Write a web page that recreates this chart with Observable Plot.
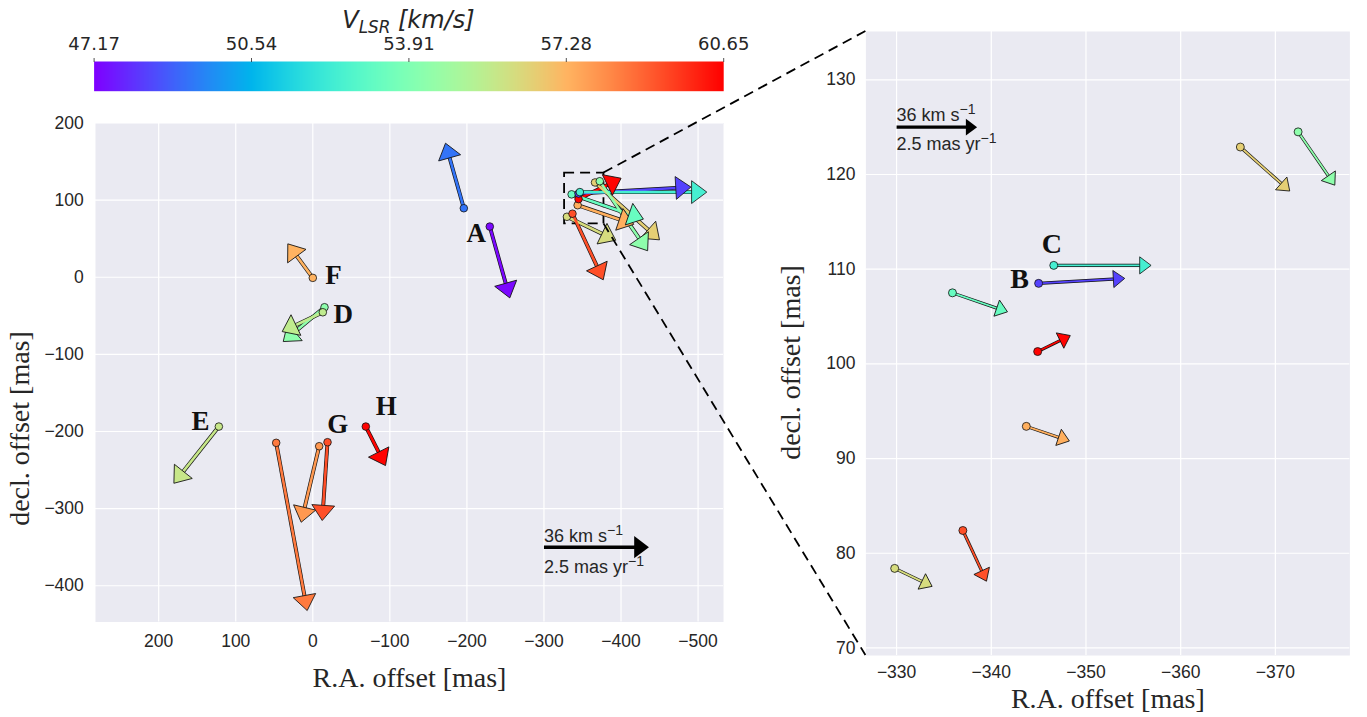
<!DOCTYPE html>
<html>
<head>
<meta charset="utf-8">
<script src="https://cdn.jsdelivr.net/npm/d3@7"></script>
<script src="https://cdn.jsdelivr.net/npm/@observablehq/plot@0.6"></script>
<style>
  body { margin: 0; background: #ffffff; }
  #fig { position: relative; width: 1367px; height: 717px; overflow: hidden; background: #fff; }
  .panel { position: absolute; }
  #cbtitle { position: absolute; left: 93.6px; width: 629.6px; top: 8px; text-align: center;
             font-family: "DejaVu Sans", sans-serif; font-style: italic; font-size: 24px; line-height: 24px; color: #262626; }
  #cbtitle sub { font-size: 70%; line-height: 0; vertical-align: -0.3em; }
  #overlay { position: absolute; left: 0; top: 0; pointer-events: none; }
</style>
</head>
<body>
<div id="fig">
  <div id="cb" class="panel" style="left:0;top:0;width:760px;height:100px"></div>
  <div id="cbtitle"><i>V<sub>LSR</sub> [km/s]</i></div>
  <div id="left" class="panel" style="left:0;top:110px;width:760px;height:607px"></div>
  <div id="right" class="panel" style="left:760px;top:0;width:607px;height:717px"></div>
  <svg id="overlay" width="1367" height="717"></svg>
</div>
<script>
// ---------------- data ----------------
const vlsrRange = [47.17, 60.65];
const cbarTicks = [47.17, 50.54, 53.91, 57.28, 60.65];
const cbarTickLabels = ["47.17", "50.54", "53.91", "57.28", "60.65"];

// maser spots: R.A. / decl. offsets (mas), proper motions (mas/yr, east & north positive), V_LSR (km/s)
const raOff  = [-196.0, -229.7,  0.0, -15.2, -13.0, 121.9,  47.5,  -8.3, -19.1, -68.8,
                -329.8, -337.0, -343.7, -344.9, -335.9, -345.0, -346.6, -366.3, -372.4];
const decOff = [  89.5,   65.7, -0.8, -38.9, -45.4, -193.6, -214.7, -219.1, -213.9, -193.6,
                  78.4,   82.4,  93.4, 101.3, 107.5, 108.5, 110.4, 122.9, 124.5];
const pmRA   = [ 0.436, -0.476, 0.595, 0.983, 0.967, 1.071, -0.738, 0.429, 0.126, -0.469,
                -1.162, -0.733, -1.337, -1.012, -1.709, -2.674, -3.022, -1.534, -1.140];
const pmDec  = [ 1.548, -1.698, 0.810, -0.817, -0.460, -1.350, -3.993, -1.810, -1.864, -0.929,
                -0.559, -1.574, -0.455, 0.497, -0.590, 0.155, 0.0, -1.366, -1.655];
const vlsr   = [ 49.2, 47.3, 57.3, 54.3, 55.6, 55.8, 58.5, 57.9, 59.3, 60.6,
                 56.2, 59.3, 57.4, 60.6, 53.3, 48.3, 52.4, 56.6, 54.3];

// region letters
const leftLetters   = ["A", "D", "E", "F", "G", "H"];
const leftLetterRA  = [-212.2, -39.6, 145.7, -26.9, -32.4, -95.3];
const leftLetterDec = [57.3, -48.6, -187.1, 2.2, -190.1, -167.4];
const rightLetters   = ["B", "C"];
const rightLetterRA  = [-343.0, -346.4];
const rightLetterDec = [109.0, 112.7];

// proper-motion key
const keyPM = 2.5;
const keyTextTop = "36 km s";
const keyTextBottom = "2.5 mas yr";
const keySup = "\u22121";
const keyLeftPos = [-300, -350];
const keyRightPos = [-330, 125.0];

// axes
const leftXDomain = [282, -533];
const leftYDomain = [-447, 200];
const rightXDomain = [-326.76, -377.87];
const rightYDomain = [69.2, 135.1];
const leftXTicks = [200, 100, 0, -100, -200, -300, -400, -500];
const leftYTicks = [200, 100, 0, -100, -200, -300, -400];
const rightXTicks = [-330, -340, -350, -360, -370];
const rightYTicks = [70, 80, 90, 100, 110, 120, 130];
const xLabel = "R.A. offset [mas]";
const yLabel = "decl. offset [mas]";

// ---------------- helpers ----------------
const rainbow = t => {
  const r = Math.min(1, Math.abs(2 * t - 0.5));
  const g = Math.sin(Math.PI * t);
  const b = Math.cos(Math.PI * t / 2);
  return d3.rgb(r * 255, g * 255, b * 255).formatHex();
};
const colorOpts = {type: "linear", domain: vlsrRange, interpolate: rainbow};
const SANS = "Liberation Sans, Arimo, Arial, sans-serif";
const SERIF = "Liberation Serif, Tinos, Times New Roman, serif";
const minus = d => String(d).replace("-", "\u2212");

// arrow head symbol: tip at origin, pointing up
const headSymbol = {
  draw(ctx, size) {
    const r = Math.sqrt(size / Math.PI);
    ctx.moveTo(0, 0);
    ctx.lineTo(1.5 * r, 2 * r);
    ctx.lineTo(-1.5 * r, 2 * r);
    ctx.closePath();
  }
};

function arrowRecords(ids, P, pmx, pmy, xs, ys, vs) {
  const sx = P.fw / Math.abs(P.xDomain[0] - P.xDomain[1]);
  const sy = P.fh / Math.abs(P.yDomain[0] - P.yDomain[1]);
  return ids.map(i => {
    const ux = pmx[i] * P.k / sx, uy = pmy[i] * P.k / sy;
    const lenPx = Math.hypot(pmx[i], pmy[i]) * P.k;
    const f = Math.max(0, 1 - 1.4 * P.headR / lenPx);
    return {
      x0: xs[i], y0: ys[i],
      x1: xs[i] + ux, y1: ys[i] + uy,
      xs: xs[i] + ux * f, ys: ys[i] + uy * f,
      v: vs ? vs[i] : null,
      angle: Math.atan2(-pmx[i], pmy[i]) * 180 / Math.PI
    };
  });
}

function makePanel(P) {
  const arrows = arrowRecords(P.ids, P, pmRA, pmDec, raOff, decOff, vlsr);
  const key = arrowRecords([0], {...P, headR: P.keyHeadR}, [-keyPM], [0], [P.keyPos[0]], [P.keyPos[1]], null)
    .map(d => ({...d, top: keyTextTop, bottom: keyTextBottom}));
  const letters = P.letters.map((t, i) => ({t, x: P.letterRA[i], y: P.letterDec[i]}));
  const marks = [
    Plot.frame({fill: "#EAEAF2", stroke: null}),
    Plot.gridX(P.xTicks, {stroke: "white", strokeOpacity: 1, strokeWidth: 1.2}),
    Plot.gridY(P.yTicks, {stroke: "white", strokeOpacity: 1, strokeWidth: 1.2}),
    Plot.axisX(P.xTicks, {tickSize: 0, tickPadding: P.xPad, tickFormat: minus, label: null, fontSize: P.tickFont}),
    Plot.axisY(P.yTicks, {tickSize: 0, tickPadding: P.yPad, tickFormat: minus, label: null, fontSize: P.tickFont})
  ];
  if (P.box) {
    marks.push(Plot.rect([P.box], {x1: d => d.x1, x2: d => d.x2, y1: d => d.y1, y2: d => d.y2,
      fill: "none", stroke: "black", strokeWidth: 1.8, strokeDasharray: "10,6"}));
  }
  marks.push(
    Plot.link(arrows, {x1: "x0", y1: "y0", x2: "xs", y2: "ys", stroke: "#111", strokeWidth: P.shaftW + 1.3}),
    Plot.link(arrows, {x1: "x0", y1: "y0", x2: "xs", y2: "ys", stroke: "v", strokeWidth: P.shaftW}),
    Plot.dot(arrows, {x: "x1", y: "y1", rotate: "angle", symbol: headSymbol, r: P.headR,
      fill: "v", stroke: "#111", strokeWidth: 0.8}),
    Plot.dot(arrows, {x: "x0", y: "y0", r: P.dotR, fill: "v", stroke: "#111", strokeWidth: 0.8}),
    Plot.text(letters, {x: "x", y: "y", text: "t", fontFamily: SERIF, fontWeight: "bold",
      fontSize: P.letterFont, fill: "#111", lineAnchor: "middle"}),
    Plot.link(key, {x1: "x0", y1: "y0", x2: "xs", y2: "ys", stroke: "black", strokeWidth: P.keyShaft}),
    Plot.dot(key, {x: "x1", y: "y1", rotate: "angle", symbol: headSymbol, r: P.keyHeadR, fill: "black", stroke: "none"}),
    Plot.text(key, {x: "x0", y: "y0", text: "top", textAnchor: "start", lineAnchor: "bottom",
      dy: P.keyDyTop, fontSize: 18, fill: "#262626", className: "keytext"}),
    Plot.text(key, {x: "x0", y: "y0", text: "bottom", textAnchor: "start", lineAnchor: "bottom",
      dy: P.keyDyBottom, fontSize: 18, fill: "#262626", className: "keytext"}),
    Plot.text([xLabel], {frameAnchor: "bottom", text: d => d, textAnchor: "middle", lineAnchor: "bottom", dy: P.xLabelDy,
      fontFamily: SERIF, fontSize: P.labelFont, fill: "#262626"}),
    Plot.text([yLabel], {frameAnchor: "left", text: d => d, rotate: -90, textAnchor: "middle", lineAnchor: "middle",
      dx: P.yLabelDx, dy: P.yLabelDy, fontFamily: SERIF, fontSize: P.labelFont, fill: "#262626"})
  );
  const svg = Plot.plot({
    width: P.width, height: P.height,
    marginLeft: P.ml, marginRight: P.mr, marginTop: P.mt, marginBottom: P.mb,
    x: {domain: P.xDomain},
    y: {domain: P.yDomain},
    color: colorOpts,
    style: {fontFamily: SANS, fontSize: "17.5px", color: "#262626", background: "transparent", overflow: "visible"},
    marks
  });
  // add the "−1" superscripts to the key texts
  d3.select(svg).selectAll("g.keytext text").each(function () {
    d3.select(this).append("tspan").attr("dy", "-0.5em").attr("font-size", "0.78em").text(keySup);
  });
  return svg;
}

// ---------------- colorbar ----------------
const cbar = Plot.plot({
  width: 760, height: 100,
  marginLeft: 93.6, marginRight: 36.8, marginTop: 61, marginBottom: 9.3,
  x: {domain: vlsrRange},
  y: {domain: [0, 1], axis: null},
  color: colorOpts,
  style: {fontFamily: "DejaVu Sans, sans-serif", fontSize: "18px", color: "#262626", background: "transparent", overflow: "visible"},
  marks: [
    Plot.raster({x1: vlsrRange[0], x2: vlsrRange[1], y1: 0, y2: 1, fill: (x, y) => x}),
    Plot.axisX(cbarTicks, {anchor: "top", tickSize: 4, tickPadding: 8, strokeWidth: 0.8,
      tickFormat: d => cbarTickLabels[cbarTicks.indexOf(d)], label: null, fontSize: 18})
  ]
});
document.getElementById("cb").appendChild(cbar);

// ---------------- panels ----------------
const allIds = raOff.map((_, i) => i);
const inZoom = i => raOff[i] <= rightXDomain[0] && raOff[i] >= rightXDomain[1] &&
                    decOff[i] >= rightYDomain[0] && decOff[i] <= rightYDomain[1];

const leftCfg = {
  ids: allIds, width: 760, height: 607, ml: 95, mr: 37, mt: 12.5, mb: 95.5,
  xDomain: leftXDomain, yDomain: leftYDomain, xTicks: leftXTicks, yTicks: leftYTicks,
  k: 42, headR: 7.6, shaftW: 2.6, dotR: 3.8, keyHeadR: 7.4, keyShaft: 3.4,
  keyPos: keyLeftPos, keyDyTop: -5, keyDyBottom: 26,
  letters: leftLetters, letterRA: leftLetterRA, letterDec: leftLetterDec, letterFont: 27,
  xPad: 12.5, yPad: 11.7, tickFont: 17.5, labelFont: 28,
  xLabelDy: 65, yLabelDx: -75, yLabelDy: 56,
  box: {x1: rightXDomain[0], x2: rightXDomain[1], y1: rightYDomain[0], y2: rightYDomain[1]}
};
leftCfg.fw = leftCfg.width - leftCfg.ml - leftCfg.mr;
leftCfg.fh = leftCfg.height - leftCfg.mt - leftCfg.mb;

const rightCfg = {
  ids: allIds.filter(inZoom), width: 607, height: 717, ml: 105.4, mr: 17.6, mt: 31, mb: 62,
  xDomain: rightXDomain, yDomain: rightYDomain, xTicks: rightXTicks, yTicks: rightYTicks,
  k: 32.2, headR: 5.7, shaftW: 1.8, dotR: 4, keyHeadR: 5.6, keyShaft: 3.2,
  keyPos: keyRightPos, keyDyTop: -6, keyDyBottom: 23.3,
  letters: rightLetters, letterRA: rightLetterRA, letterDec: rightLetterDec, letterFont: 28,
  xPad: 10.4, yPad: 10.5, tickFont: 17.5, labelFont: 28,
  xLabelDy: 52, yLabelDx: -74.4, yLabelDy: 19,
  box: null
};
rightCfg.fw = rightCfg.width - rightCfg.ml - rightCfg.mr;
rightCfg.fh = rightCfg.height - rightCfg.mt - rightCfg.mb;

const leftPlot = makePanel(leftCfg);
document.getElementById("left").appendChild(leftPlot);
const rightPlot = makePanel(rightCfg);
document.getElementById("right").appendChild(rightPlot);

// ---------------- inset connectors ----------------
const lx = leftPlot.scale("x"), ly = leftPlot.scale("y");
const rx = rightPlot.scale("x"), ry = rightPlot.scale("y");
const leftOff = [0, 110], rightOff = [760, 0];
const connectors = [
  [[lx.apply(rightXDomain[1]) + leftOff[0], ly.apply(rightYDomain[1]) + leftOff[1]],
   [rx.apply(rightXDomain[0]) + rightOff[0], ry.apply(rightYDomain[1]) + rightOff[1]]],
  [[lx.apply(rightXDomain[1]) + leftOff[0], ly.apply(rightYDomain[0]) + leftOff[1]],
   [rx.apply(rightXDomain[0]) + rightOff[0], ry.apply(rightYDomain[0]) + rightOff[1]]]
];
d3.select("#overlay").selectAll("line").data(connectors).join("line")
  .attr("x1", d => d[0][0]).attr("y1", d => d[0][1])
  .attr("x2", d => d[1][0]).attr("y2", d => d[1][1])
  .attr("stroke", "black").attr("stroke-width", 1.8).attr("stroke-dasharray", "10,6");
</script>
</body>
</html>
